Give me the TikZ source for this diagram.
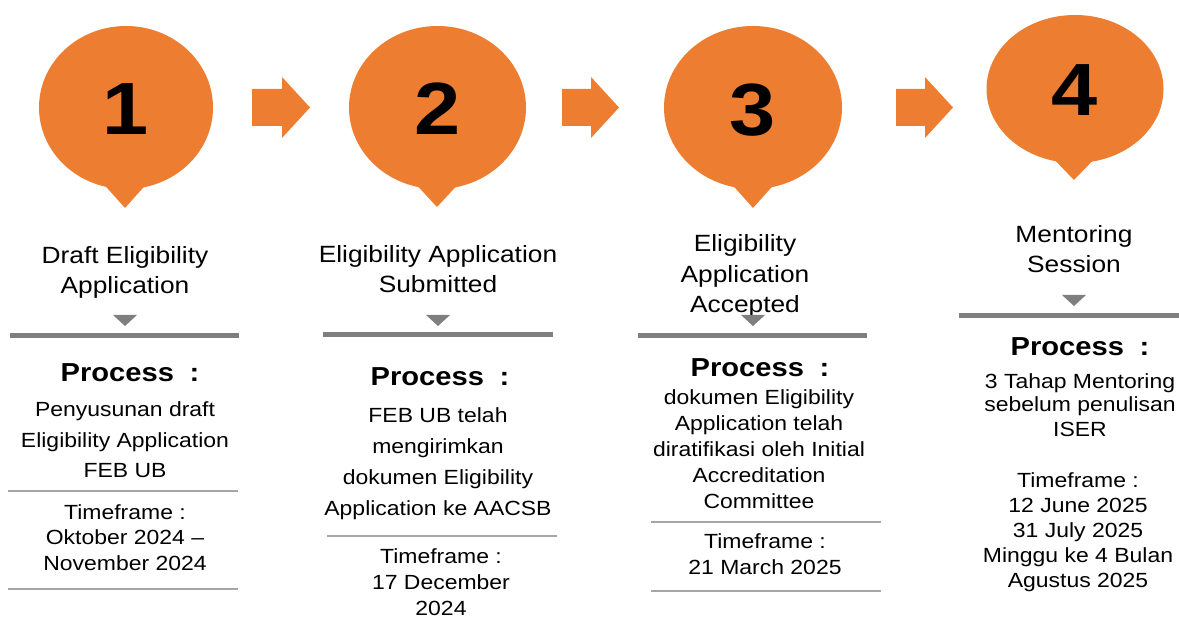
\documentclass[tikz,border=0pt]{standalone}
\usepackage{fontspec}
\setmainfont{Liberation Sans}[FakeStretch=1.12]
\usetikzlibrary{shapes.geometric}
\definecolor{orng}{HTML}{ED7D31}
\definecolor{thickgrey}{HTML}{7F7F7F}
\definecolor{thingrey}{HTML}{A6A6A6}
\tikzset{
  bubble/.style={ellipse, fill=orng, inner sep=0pt, draw=none},
  num/.style={inner sep=0pt, font=\fontsize{74}{74}\selectfont\bfseries},
  tail/.style={fill=orng},
  blockarrow/.style={fill=orng},
  titletext/.style={align=center, anchor=base, inner sep=0pt, font=\fontsize{23.5}{30.5}\selectfont},
  proctext/.style={anchor=base, inner sep=0pt, font=\fontsize{26}{26}\selectfont\bfseries},
  bodytext/.style={align=center, anchor=base, inner sep=0pt},
  marker/.style={fill=thickgrey},
  thickline/.style={draw=thickgrey, line width=5pt},
  thinline/.style={draw=thingrey, line width=1.3pt}
}
\newcommand{\proclabel}{Process\hspace{0.6em}:}
\begin{document}
\begin{tikzpicture}[x=1pt,y=-1pt]
\useasboundingbox (0,0) rectangle (1179,628);

% bubbles
\node[bubble, minimum width=174pt, minimum height=163pt] (b1) at (126,107.5) {};
\fill[tail] (100,180) -- (150,180) -- (125,208) -- cycle;
\node[num] (n1) at (126,109) {1};

\node[bubble, minimum width=177pt, minimum height=163pt] (b2) at (437.5,107.5) {};
\fill[tail] (412,180) -- (462,180) -- (437,207) -- cycle;
\node[num] (n2) at (437.5,109) {2};

\node[bubble, minimum width=178pt, minimum height=163pt] (b3) at (753,107.5) {};
\fill[tail] (728,180) -- (778,180) -- (753,208) -- cycle;
\node[num] (n3) at (753,110) {3};

\node[bubble, minimum width=177pt, minimum height=148pt] (b4) at (1075,89) {};
\fill[tail] (1045,150) -- (1103,150) -- (1074,180) -- cycle;
\node[num] (n4) at (1075,90) {4};

% block arrows
\fill[blockarrow] (252,89) -- (282,89) -- (282,77) -- (310,107.5) -- (282,138) -- (282,126) -- (252,126) -- cycle;
\fill[blockarrow] (562,89) -- (591,89) -- (591,77) -- (619,107.5) -- (591,138) -- (591,126) -- (562,126) -- cycle;
\fill[blockarrow] (896,89) -- (925,89) -- (925,77) -- (953,107.5) -- (925,138) -- (925,126) -- (896,126) -- cycle;

% column 1 (base anchor = last line baseline)
\node[titletext] (t1) at (125,294) {Draft Eligibility\\Application};
\fill[marker] (113,315) -- (137,315) -- (125,326) -- cycle;
\draw[thickline] (10,336) -- (239,336);
\node[proctext] (p1) at (130,382) {\proclabel};
\node[bodytext, font=\fontsize{20.5}{31}\selectfont] (d1) at (125,478) {Penyusunan draft\\Eligibility Application\\FEB UB};
\draw[thinline] (8,491) -- (238,491);
\node[bodytext, font=\fontsize{20.5}{25.5}\selectfont] (f1) at (125,570) {Timeframe :\\Oktober 2024 --\\November 2024};
\draw[thinline] (8,589) -- (238,589);

% column 2
\node[titletext] (t2) at (438,293) {Eligibility Application\\Submitted};
\fill[marker] (426,315) -- (450,315) -- (438,326) -- cycle;
\draw[thickline] (323,335) -- (553,335);
\node[proctext] (p2) at (440,386) {\proclabel};
\node[bodytext, font=\fontsize{20.5}{31}\selectfont] (d2) at (438,515) {FEB UB telah\\mengirimkan\\dokumen Eligibility\\Application ke AACSB};
\draw[thinline] (327,536) -- (557,536);
\node[bodytext, font=\fontsize{20.5}{26}\selectfont] (f2) at (441,615) {Timeframe :\\17 December\\2024};

% column 3
\node[titletext] (t3) at (745,313) {Eligibility\\Application\\Accepted};
\fill[marker] (741,315) -- (765,315) -- (753,326) -- cycle;
\draw[thickline] (638,336) -- (867,336);
\node[proctext] (p3) at (760,377) {\proclabel};
\node[bodytext, font=\fontsize{20.5}{25.8}\selectfont] (d3) at (759,508) {dokumen Eligibility\\Application telah\\diratifikasi oleh Initial\\Accreditation\\Committee};
\draw[thinline] (651,522) -- (881,522);
\node[bodytext, font=\fontsize{20.5}{26}\selectfont] (f3) at (765,574) {Timeframe :\\21 March 2025};
\draw[thinline] (651,591) -- (881,591);

% column 4
\node[titletext] (t4) at (1074,273) {Mentoring\\Session};
\fill[marker] (1062,295) -- (1086,295) -- (1074,306) -- cycle;
\draw[thickline] (959,316) -- (1179,316);
\node[proctext] (p4) at (1080,356) {\proclabel};
\node[bodytext, font=\fontsize{20.5}{24}\selectfont] (d4) at (1080,436) {3 Tahap Mentoring\\sebelum penulisan\\ISER};
\node[bodytext, font=\fontsize{20.5}{25}\selectfont] (f4) at (1078,587) {Timeframe :\\12 June 2025\\31 July 2025\\Minggu ke 4 Bulan\\Agustus 2025};
\end{tikzpicture}
\end{document}
